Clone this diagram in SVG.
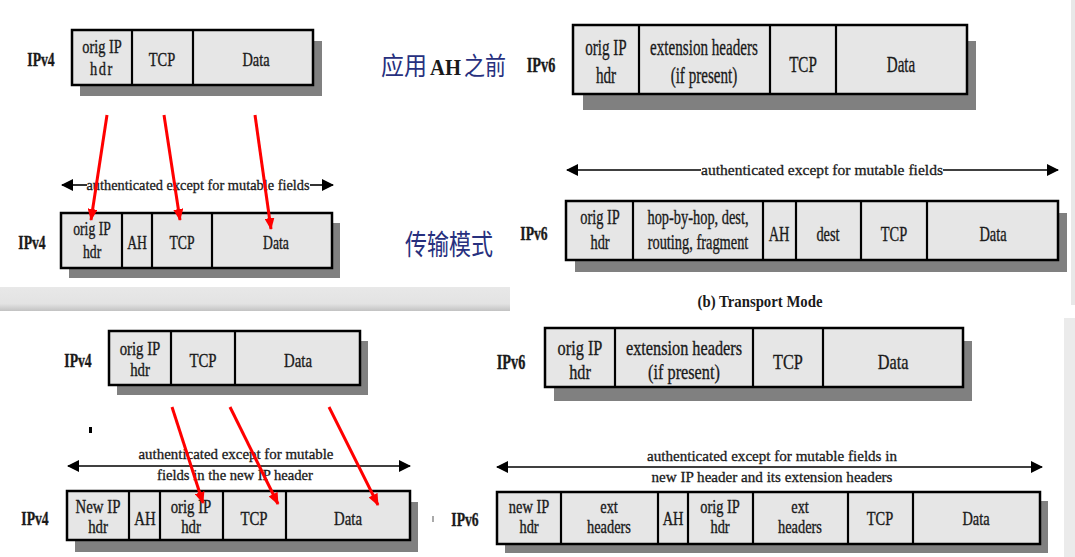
<svg xmlns="http://www.w3.org/2000/svg" width="1075" height="557" viewBox="0 0 1075 557">
<style>
.bg{fill:#ffffff}
.sh{fill:#808080}
.bx{fill:#e6e6e6;stroke:#000;stroke-width:2.5}
.dv{stroke:#000;stroke-width:2.2}
text{font-family:"Liberation Serif","Times New Roman",serif;fill:#1a1a1a;text-anchor:middle}
.t{transform-box:fill-box;transform-origin:center;stroke:#1a1a1a;stroke-width:0.35}
.lb{font-weight:bold;font-size:19px;transform:scaleX(.72)}
.lb6{font-weight:bold;font-size:21px;transform:scaleX(.68)}
.f1{font-size:18px;transform:scaleX(.8)}
.f2{font-size:24px;transform:scaleX(.63)}
.f3{font-size:18px;transform:scaleX(.76)}
.f4{font-size:20px;transform:scaleX(.72)}
.f5{font-size:19px;transform:scaleX(.78)}
.f6{font-size:22px;transform:scaleX(.74)}
.f7{font-size:19px;transform:scaleX(.78)}
.f8{font-size:18px;transform:scaleX(.8)}
.al{font-size:15px;stroke:#1a1a1a;stroke-width:0.3}
.bl{stroke:#000;stroke-width:1.6;fill:none}
.red{stroke:#ff0000;stroke-width:3;fill:none;marker-end:url(#ra)}
.cjk{font-family:"Noto Sans CJK SC","Noto Sans CJK JP",sans-serif;fill:#27307e;text-anchor:start}
</style>
<defs>
<marker id="ra" markerUnits="userSpaceOnUse" markerWidth="12" markerHeight="10" refX="11" refY="5" orient="auto"><path d="M0,0 L12,5 L0,10 z" fill="#ff0000"/></marker>
<marker id="ba" markerUnits="userSpaceOnUse" markerWidth="12" markerHeight="12" refX="11" refY="6" orient="auto-start-reverse"><path d="M0,0 L12,6 L0,12 z" fill="#000"/></marker>
<linearGradient id="band" x1="0" y1="0" x2="0" y2="1"><stop offset="0" stop-color="#e8e8e8"/><stop offset="0.7" stop-color="#e3e3e3"/><stop offset="1" stop-color="#c2c2c2"/></linearGradient>
</defs>
<rect class="bg" x="0" y="0" width="1075" height="557"/>
<rect x="0" y="287" width="510" height="24" fill="url(#band)"/>
<rect x="1071" y="0" width="4" height="305" fill="#e8e8e8"/>
<rect x="1064" y="318" width="11" height="239" fill="#ebebeb"/>
<rect x="89" y="427" width="3" height="6" fill="#000"/>
<rect x="432" y="516" width="2" height="6" fill="#aaa"/>

<text class="cjk" x="381" y="75" font-size="25" textLength="46" lengthAdjust="spacingAndGlyphs">应用</text>
<text x="445.5" y="75" font-size="24" font-weight="bold" fill="#27307e" textLength="31" lengthAdjust="spacingAndGlyphs">AH</text>
<text class="cjk" x="464" y="75" font-size="25" textLength="42" lengthAdjust="spacingAndGlyphs">之前</text>
<text class="cjk" x="405" y="255" font-size="28" textLength="88" lengthAdjust="spacingAndGlyphs">传输模式</text>
<text x="760" y="307" font-size="16" font-weight="bold" textLength="125" lengthAdjust="spacingAndGlyphs">(b) Transport Mode</text>

<g id="pkt1">
<rect class="sh" x="80" y="41" width="242" height="55"/>
<rect class="bx" x="72" y="30" width="241" height="55"/>
<line class="dv" x1="132" y1="30" x2="132" y2="85"/><line class="dv" x1="193" y1="30" x2="193" y2="85"/>
<text class="t lb" x="41" y="66">IPv4</text>
<text class="t f1" x="102" y="53">orig IP</text><text class="t f1" x="102" y="75" letter-spacing="2">hdr</text>
<text class="t f1" x="162" y="66">TCP</text><text class="t f1" x="256" y="66">Data</text>
</g>

<g id="pkt2">
<rect class="sh" x="583" y="41" width="393" height="69"/>
<rect class="bx" x="573" y="25" width="394" height="69"/>
<line class="dv" x1="639" y1="25" x2="639" y2="94"/><line class="dv" x1="770" y1="25" x2="770" y2="94"/><line class="dv" x1="836" y1="25" x2="836" y2="94"/>
<text class="t lb6" x="541" y="72">IPv6</text>
<text class="t f2" x="606" y="55">orig IP</text><text class="t f2" x="606" y="83">hdr</text>
<text class="t f2" x="704" y="55">extension headers</text><text class="t f2" x="704" y="83">(if present)</text>
<text class="t f2" x="803" y="72">TCP</text><text class="t f2" x="901" y="72">Data</text>
</g>

<g id="pkt3">
<rect class="sh" x="69" y="223" width="271" height="55"/>
<rect class="bx" x="61" y="213" width="271" height="55"/>
<line class="dv" x1="122" y1="213" x2="122" y2="268"/><line class="dv" x1="152" y1="213" x2="152" y2="268"/><line class="dv" x1="212" y1="213" x2="212" y2="268"/>
<text class="t lb" x="32" y="249">IPv4</text>
<text class="t f3" x="92" y="235">orig IP</text><text class="t f3" x="92" y="258">hdr</text>
<text class="t f3" x="137" y="249">AH</text><text class="t f3" x="182" y="249">TCP</text><text class="t f3" x="276" y="249">Data</text>
</g>

<g id="pkt4">
<rect class="sh" x="575" y="213" width="492" height="59"/>
<rect class="bx" x="566" y="201" width="492" height="59"/>
<line class="dv" x1="633" y1="201" x2="633" y2="260"/><line class="dv" x1="763" y1="201" x2="763" y2="260"/><line class="dv" x1="796" y1="201" x2="796" y2="260"/><line class="dv" x1="861" y1="201" x2="861" y2="260"/><line class="dv" x1="927" y1="201" x2="927" y2="260"/>
<text class="t lb" x="534" y="240">IPv6</text>
<text class="t f4" x="600" y="224">orig IP</text><text class="t f4" x="600" y="249">hdr</text>
<text class="t f4" x="698" y="224">hop-by-hop, dest,</text><text class="t f4" x="698" y="249">routing, fragment</text>
<text class="t f4" x="779" y="241">AH</text><text class="t f4" x="828" y="241">dest</text><text class="t f4" x="894" y="241">TCP</text><text class="t f4" x="993" y="241">Data</text>
</g>

<g id="pkt5">
<rect class="sh" x="117" y="341" width="251" height="54"/>
<rect class="bx" x="109" y="331" width="251" height="54"/>
<line class="dv" x1="171" y1="331" x2="171" y2="385"/><line class="dv" x1="235" y1="331" x2="235" y2="385"/>
<text class="t lb" x="78" y="367">IPv4</text>
<text class="t f5" x="140" y="355">orig IP</text><text class="t f5" x="140" y="376">hdr</text>
<text class="t f5" x="203" y="367">TCP</text><text class="t f5" x="298" y="367">Data</text>
</g>

<g id="pkt6">
<rect class="sh" x="554" y="341" width="418" height="60"/>
<rect class="bx" x="545" y="328" width="418" height="59"/>
<line class="dv" x1="615" y1="328" x2="615" y2="387"/><line class="dv" x1="753" y1="328" x2="753" y2="387"/><line class="dv" x1="823" y1="328" x2="823" y2="387"/>
<text class="t lb6" x="511" y="369">IPv6</text>
<text class="t f6" x="580" y="355">orig IP</text><text class="t f6" x="580" y="379">hdr</text>
<text class="t f6" x="684" y="355">extension headers</text><text class="t f6" x="684" y="379">(if present)</text>
<text class="t f6" x="788" y="369">TCP</text><text class="t f6" x="893" y="369">Data</text>
</g>

<g id="pkt7">
<rect class="sh" x="75" y="502" width="343" height="50"/>
<rect class="bx" x="67" y="491" width="343" height="49"/>
<line class="dv" x1="129" y1="491" x2="129" y2="540"/><line class="dv" x1="160" y1="491" x2="160" y2="540"/><line class="dv" x1="223" y1="491" x2="223" y2="540"/><line class="dv" x1="286" y1="491" x2="286" y2="540"/>
<text class="t lb" x="35" y="525">IPv4</text>
<text class="t f7" x="98" y="513">New IP</text><text class="t f7" x="98" y="533">hdr</text>
<text class="t f7" x="145" y="525">AH</text>
<text class="t f7" x="191" y="513">orig IP</text><text class="t f7" x="191" y="533">hdr</text>
<text class="t f7" x="254" y="525">TCP</text><text class="t f7" x="348" y="525">Data</text>
</g>

<g id="pkt8">
<rect class="sh" x="505" y="501" width="543" height="52"/>
<rect class="bx" x="497" y="492" width="543" height="52"/>
<line class="dv" x1="561" y1="492" x2="561" y2="544"/><line class="dv" x1="658" y1="492" x2="658" y2="544"/><line class="dv" x1="688" y1="492" x2="688" y2="544"/><line class="dv" x1="753" y1="492" x2="753" y2="544"/><line class="dv" x1="848" y1="492" x2="848" y2="544"/><line class="dv" x1="913" y1="492" x2="913" y2="544"/>
<text class="t lb" x="465" y="526">IPv6</text>
<text class="t f8" x="529" y="513">new IP</text><text class="t f8" x="529" y="533">hdr</text>
<text class="t f8" x="609" y="513">ext</text><text class="t f8" x="609" y="533">headers</text>
<text class="t f8" x="673" y="525">AH</text>
<text class="t f8" x="720" y="513">orig IP</text><text class="t f8" x="720" y="533">hdr</text>
<text class="t f8" x="800" y="513">ext</text><text class="t f8" x="800" y="533">headers</text>
<text class="t f8" x="880" y="525">TCP</text><text class="t f8" x="976" y="525">Data</text>
</g>

<g id="connectors">
<line class="bl" x1="62" y1="185" x2="87" y2="185" marker-start="url(#ba)"/>
<line class="bl" x1="310" y1="185" x2="333" y2="185" marker-end="url(#ba)"/>
<text class="al" x="198" y="190" textLength="223" lengthAdjust="spacingAndGlyphs">authenticated except for mutable fields</text>
<line class="bl" x1="567" y1="170" x2="701" y2="170" marker-start="url(#ba)"/>
<line class="bl" x1="943" y1="170" x2="1058" y2="170" marker-end="url(#ba)"/>
<text class="al" x="822" y="175" textLength="242" lengthAdjust="spacingAndGlyphs">authenticated except for mutable fields</text>
<line class="bl" x1="68" y1="466" x2="410" y2="466" marker-start="url(#ba)" marker-end="url(#ba)"/>
<text class="al" x="236" y="459" textLength="195" lengthAdjust="spacingAndGlyphs">authenticated except for mutable</text>
<text class="al" x="235" y="480" textLength="156" lengthAdjust="spacingAndGlyphs">fields in the new IP header</text>
<line class="bl" x1="497" y1="467" x2="1042" y2="467" marker-start="url(#ba)" marker-end="url(#ba)"/>
<text class="al" x="772" y="461" textLength="250" lengthAdjust="spacingAndGlyphs">authenticated except for mutable fields in</text>
<text class="al" x="772" y="482" textLength="241" lengthAdjust="spacingAndGlyphs">new IP header and its extension headers</text>
<line class="red" x1="107" y1="115" x2="91" y2="220"/>
<line class="red" x1="164" y1="115" x2="180" y2="220"/>
<line class="red" x1="255" y1="115" x2="271" y2="229"/>
<line class="red" x1="172" y1="407" x2="203" y2="503"/>
<line class="red" x1="230" y1="407" x2="278" y2="504"/>
<line class="red" x1="329" y1="407" x2="378" y2="505"/>
</g>
</svg>
